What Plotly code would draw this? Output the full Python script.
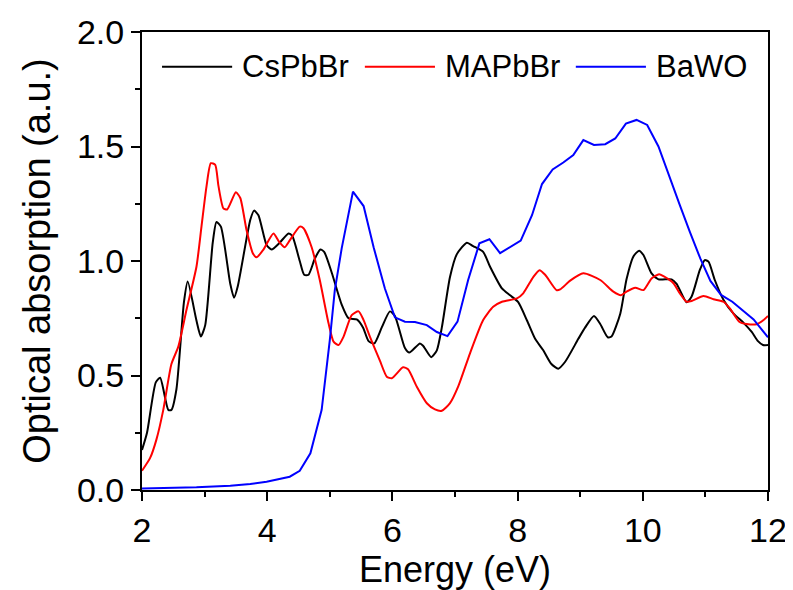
import plotly.graph_objects as go

cs_x = [2.00, 2.08, 2.22, 2.29, 2.42, 2.47, 2.55, 2.67, 2.73, 2.87, 2.94, 3.01, 3.13, 3.19, 3.26, 3.41, 3.47, 3.53,
        3.73, 3.79, 3.86, 3.99, 4.07, 4.20, 4.34, 4.40, 4.52, 4.59, 4.66, 4.76, 4.85, 4.91, 5.03, 5.19, 5.30, 5.43,
        5.53, 5.62, 5.71, 5.83, 5.96, 6.04, 6.20, 6.27, 6.44, 6.49, 6.62, 6.71, 6.79, 6.92, 7.03, 7.19, 7.29, 7.45,
        7.56, 7.75, 7.88, 8.01, 8.15, 8.28, 8.41, 8.54, 8.65, 8.76, 8.97, 9.08, 9.22, 9.32, 9.44, 9.50, 9.64, 9.74,
        9.85, 9.94, 10.01, 10.14, 10.25, 10.46, 10.54, 10.70, 10.78, 10.91, 10.99, 11.05, 11.15, 11.29, 11.45, 11.61,
        11.74, 11.84, 11.92, 12.00]
cs_y = [0.175, 0.25, 0.47, 0.49, 0.35, 0.35, 0.44, 0.82, 0.91, 0.74, 0.67, 0.72, 1.08, 1.17, 1.15, 0.90, 0.84, 0.89,
        1.18, 1.22, 1.20, 1.07, 1.05, 1.08, 1.12, 1.11, 1.00, 0.94, 0.94, 1.01, 1.05, 1.04, 0.95, 0.81, 0.75, 0.745,
        0.71, 0.65, 0.64, 0.71, 0.78, 0.76, 0.62, 0.60, 0.64, 0.63, 0.58, 0.61, 0.71, 0.93, 1.03, 1.08, 1.065, 1.04,
        0.975, 0.88, 0.85, 0.82, 0.74, 0.66, 0.61, 0.55, 0.53, 0.56, 0.66, 0.71, 0.76, 0.725, 0.667, 0.67, 0.77, 0.92,
        1.02, 1.045, 1.026, 0.946, 0.92, 0.92, 0.90, 0.82, 0.845, 0.96, 1.004, 0.997, 0.917, 0.83, 0.77, 0.73,
        0.69, 0.65, 0.633, 0.633]

ma_x = [2.00, 2.13, 2.23, 2.34, 2.47, 2.58, 2.71, 2.87, 2.95, 3.03, 3.10, 3.17, 3.22, 3.30, 3.36, 3.50, 3.57, 3.67,
        3.77, 3.83, 3.94, 4.10, 4.19, 4.28, 4.36, 4.52, 4.58, 4.71, 4.84, 4.98, 5.06, 5.14, 5.22, 5.35, 5.46, 5.54,
        5.64, 5.80, 5.91, 5.99, 6.17, 6.25, 6.39, 6.55, 6.68, 6.79, 6.92, 7.05, 7.24, 7.45, 7.61, 7.75, 7.99, 8.09,
        8.25, 8.35, 8.44, 8.62, 8.68, 8.84, 9.05, 9.32, 9.53, 9.65, 9.74, 9.88, 10.01, 10.14, 10.26, 10.33, 10.49,
        10.59, 10.70, 10.78, 10.97, 11.13, 11.29, 11.39, 11.54, 11.66, 11.82, 11.92, 12.00]
ma_y = [0.084, 0.14, 0.22, 0.35, 0.55, 0.626, 0.786, 0.975, 1.15, 1.325, 1.427, 1.42, 1.33, 1.23, 1.225, 1.30, 1.275,
        1.135, 1.034, 1.016, 1.05, 1.12, 1.084, 1.06, 1.09, 1.15, 1.143, 1.06, 0.917, 0.728, 0.648, 0.633, 0.67, 0.764,
        0.78, 0.742, 0.67, 0.565, 0.495, 0.488, 0.536, 0.527, 0.451, 0.379, 0.352, 0.346, 0.379, 0.451, 0.597, 0.742,
        0.80, 0.822, 0.837, 0.859, 0.93, 0.96, 0.94, 0.873, 0.876, 0.914, 0.946, 0.917, 0.866, 0.85, 0.866, 0.883,
        0.873, 0.924, 0.942, 0.934, 0.903, 0.859, 0.822, 0.825, 0.847, 0.833, 0.822, 0.793, 0.735, 0.725, 0.724,
        0.74, 0.76]

ba_x = [2.00, 2.87, 3.41, 3.73, 3.99, 4.20, 4.36, 4.52, 4.69, 4.87, 5.00, 5.08, 5.19, 5.37, 5.54, 5.70, 5.88, 6.04,
        6.20, 6.36, 6.55, 6.71, 6.88, 7.04, 7.21, 7.39, 7.55, 7.72, 7.88, 8.05, 8.23, 8.39, 8.56, 8.73, 8.89, 9.05,
        9.22, 9.40, 9.56, 9.73, 9.90, 10.07, 10.25, 10.41, 10.59, 10.75, 10.92, 11.08, 11.25, 11.43, 11.61, 11.77,
        12.00]
ba_y = [0.007, 0.012, 0.019, 0.026, 0.036, 0.048, 0.058, 0.084, 0.16, 0.35, 0.655, 0.873, 1.055, 1.303, 1.24, 1.06,
        0.88, 0.754, 0.735, 0.734, 0.72, 0.69, 0.672, 0.735, 0.917, 1.077, 1.095, 1.034, 1.06, 1.089, 1.20, 1.336,
        1.40, 1.43, 1.463, 1.528, 1.507, 1.51, 1.535, 1.60, 1.616, 1.594, 1.50, 1.376, 1.245, 1.128, 1.01, 0.913,
        0.852, 0.822, 0.783, 0.745, 0.667]

series_names = ["CsPbBr", "MAPbBr", "BaWO"]
series_colors = ["black", "red", "blue"]
series_x = [cs_x, ma_x, ba_x]
series_y = [cs_y, ma_y, ba_y]
series_shapes = ["spline", "spline", "linear"]

FONT = "Liberation Sans, Arial, sans-serif"

fig = go.Figure()
for name, xs, ys, col, shape in zip(series_names, series_x, series_y, series_colors, series_shapes):
    fig.add_trace(go.Scatter(x=xs, y=ys, mode="lines", name=name, showlegend=False,
                             line=dict(color=col, width=2, shape=shape, smoothing=0.6)))

# legend drawn inside the frame (paper coordinates of the plot area)
leg_y = 0.924
leg_line_x0 = [0.032, 0.356, 0.693]
leg_line_len = 0.112
leg_text_gap = 0.013
for name, col, lx in zip(series_names, series_colors, leg_line_x0):
    fig.add_shape(type="line", xref="paper", yref="paper", x0=lx, x1=lx + leg_line_len, y0=leg_y, y1=leg_y,
                  line=dict(color=col, width=2))
    fig.add_annotation(xref="paper", yref="paper", x=lx + leg_line_len + leg_text_gap, y=leg_y,
                       xanchor="left", yanchor="middle", text=name, showarrow=False,
                       font=dict(family=FONT, size=31, color="black"))

axis_common = dict(
    showline=True, linecolor="black", linewidth=2, mirror=True,
    showgrid=False, zeroline=False, automargin=False,
    ticks="outside", tickcolor="black", tickwidth=2, ticklen=9,
    tickfont=dict(family=FONT, size=34, color="black"),
)

fig.update_xaxes(range=[2, 12], dtick=2, tick0=2,
                 minor=dict(dtick=1, ticks="outside", ticklen=5, tickcolor="black", tickwidth=2),
                 title=dict(text="Energy (eV)", font=dict(family=FONT, size=36, color="black")),
                 **axis_common)
fig.update_yaxes(range=[0, 2.0], dtick=0.5, tickformat=".1f",
                 minor=dict(dtick=0.25, ticks="outside", ticklen=5, tickcolor="black", tickwidth=2),
                 title=dict(text="Optical absorption (a.u.)", font=dict(family=FONT, size=38, color="black")),
                 **axis_common)

# the page body adds an 8 px offset, so the figure is 8 px smaller than the window
fig.update_layout(
    width=785, height=582,
    margin=dict(l=134, r=25, t=24, b=100),
    paper_bgcolor="white", plot_bgcolor="white",
    font=dict(family=FONT, color="black"),
    showlegend=False,
)

fig.write_html("out.html")
